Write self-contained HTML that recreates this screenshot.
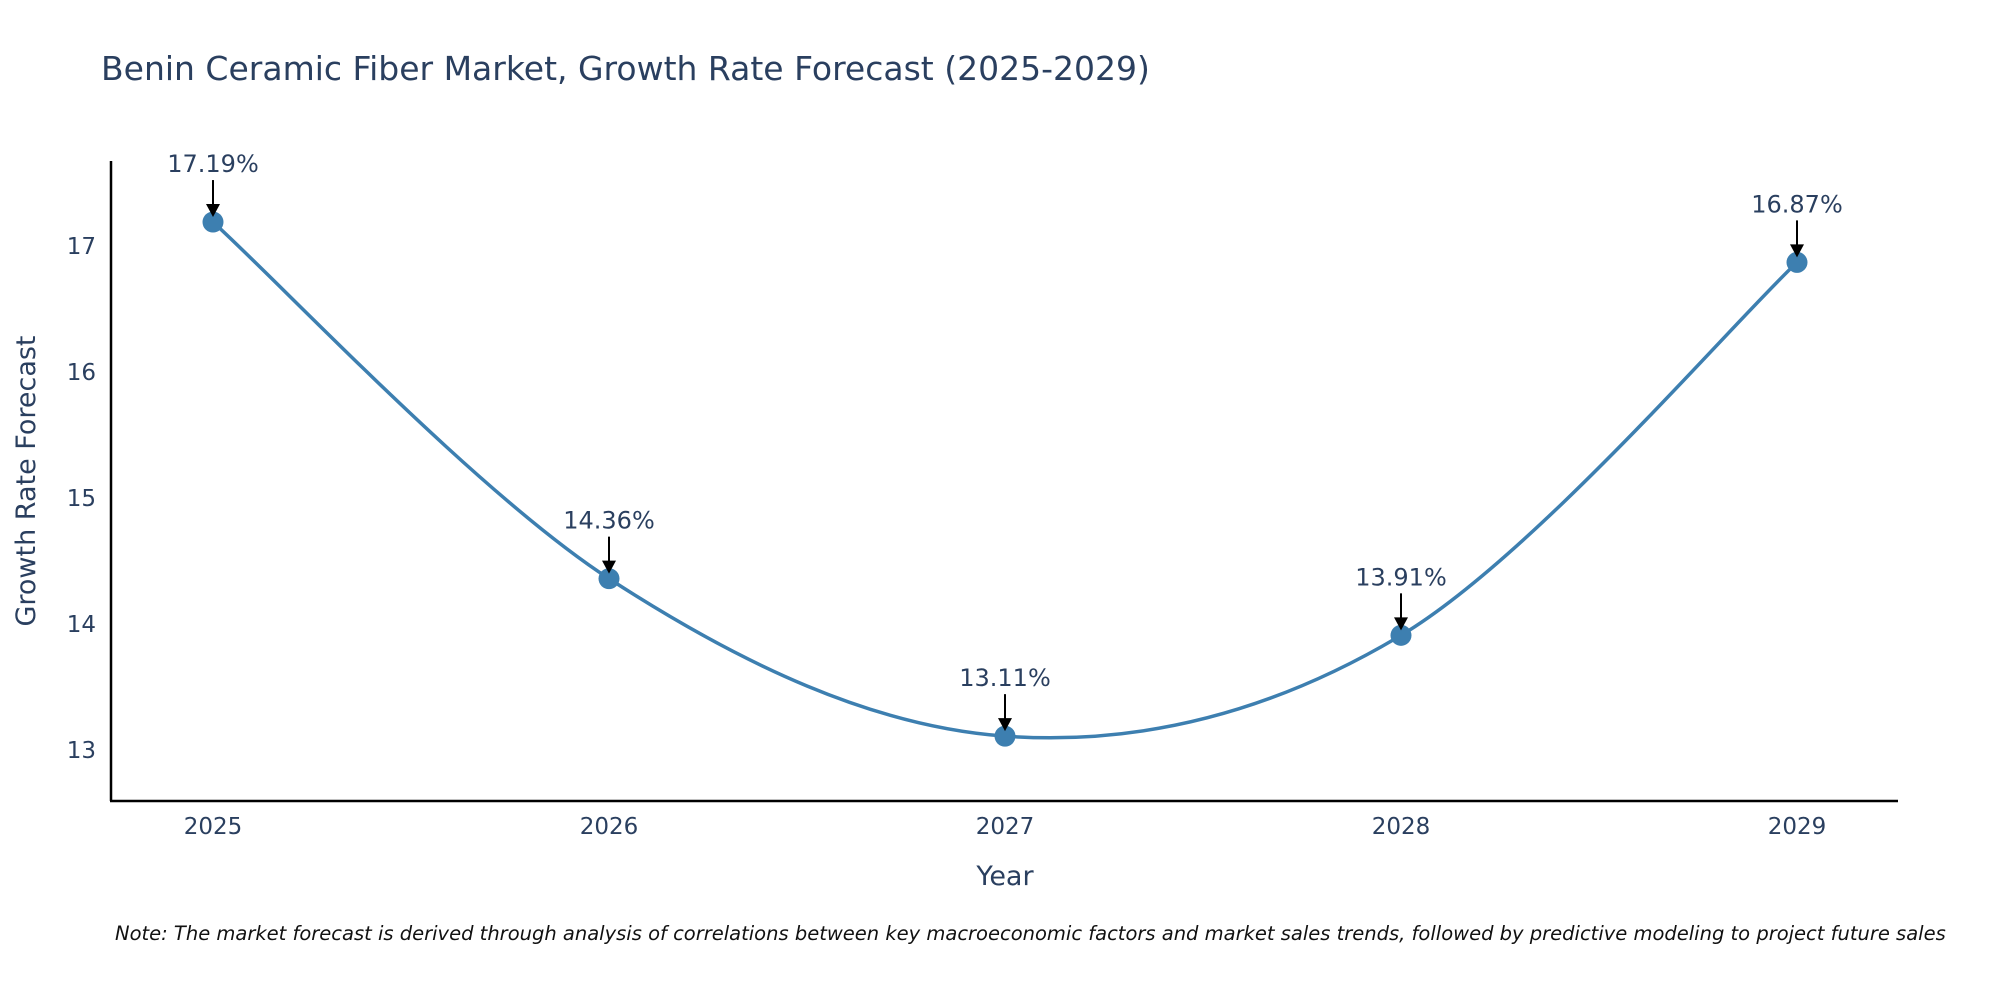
<!DOCTYPE html>
<html><head><meta charset="utf-8"><style>
body{margin:0;background:#fff;}
svg{font-family:"DejaVu Sans","Liberation Sans",sans-serif;}
</style></head><body>
<svg id="chart" width="2000" height="1000" viewBox="0 0 2000 1000">
<text x="101" y="80" font-size="33" fill="#2a3f5f">Benin Ceramic Fiber Market, Growth Rate Forecast (2025-2029)</text>
<g id="plot"></g>
<text x="1005" y="885" font-size="27" fill="#2a3f5f" text-anchor="middle">Year</text>
<text transform="translate(35,481) rotate(-90)" font-size="27" fill="#2a3f5f" text-anchor="middle">Growth Rate Forecast</text>
<text x="115" y="940" font-size="19.5" font-style="italic" fill="#111">Note: The market forecast is derived through analysis of correlations between key macroeconomic factors and market sales trends, followed by predictive modeling to project future sales</text>
</svg>
<script>
const years = [2025, 2026, 2027, 2028, 2029];
const values = [17.19, 14.36, 13.11, 13.91, 16.87];
const yTicks = [13, 14, 15, 16, 17];
const NS = "http://www.w3.org/2000/svg";
const g = document.getElementById('plot');
function xS(v){return 213 + (v-2025)*396;}
function yS(v){return 750 - (v-13)*126;}
function mk(t,a){const e=document.createElementNS(NS,t);for(const k in a)e.setAttribute(k,a[k]);g.appendChild(e);return e;}
let ax=mk('line',{x1:111,y1:161,x2:111,y2:801,stroke:'#000','stroke-width':2.5});


ax=mk('line',{x1:110,y1:801,x2:1898,y2:801,stroke:'#000','stroke-width':2.5});


yTicks.forEach(t=>{const e=mk('text',{x:96,y:yS(t)+8,'font-size':23,fill:'#2a3f5f','text-anchor':'end'});e.textContent=t;

});
years.forEach(t=>{const e=mk('text',{x:xS(t),y:834,'font-size':23,fill:'#2a3f5f','text-anchor':'middle'});e.textContent=t;

});
const pts=years.map((y,i)=>[xS(y),yS(values[i])]);
let d='M'+pts[0][0]+','+pts[0][1];
const s=0.5/3*2;
for(let i=0;i<pts.length-1;i++){
 const p0=pts[Math.max(0,i-1)],p1=pts[i],p2=pts[i+1],p3=pts[Math.min(pts.length-1,i+2)];
 const c1=[p1[0]+(p2[0]-p0[0])*s/2,p1[1]+(p2[1]-p0[1])*s/2];
 const c2=[p2[0]-(p3[0]-p1[0])*s/2,p2[1]-(p3[1]-p1[1])*s/2];
 d+=` C${c1[0]},${c1[1]} ${c2[0]},${c2[1]} ${p2[0]},${p2[1]}`;
}
const line=mk('path',{d:d,fill:'none',stroke:'#3d7fb0','stroke-width':3.5});


pts.forEach((p,i)=>{
 const c=mk('circle',{cx:p[0],cy:p[1],r:10.5,fill:'#3d7fb0'});
 
 
 const l=mk('line',{x1:p[0],y1:p[1]-42,x2:p[0],y2:p[1]-16,stroke:'#000','stroke-width':2});
 
 
 const h=mk('path',{d:`M${p[0]-7},${p[1]-18} L${p[0]+7},${p[1]-18} L${p[0]},${p[1]-5} Z`,fill:'#000'});
 
 
 const t=mk('text',{x:p[0],y:p[1]-50,'font-size':24,fill:'#2a3f5f','text-anchor':'middle'});
 t.textContent=values[i].toFixed(2)+'%';
 
 
});
</script>
</body></html>
